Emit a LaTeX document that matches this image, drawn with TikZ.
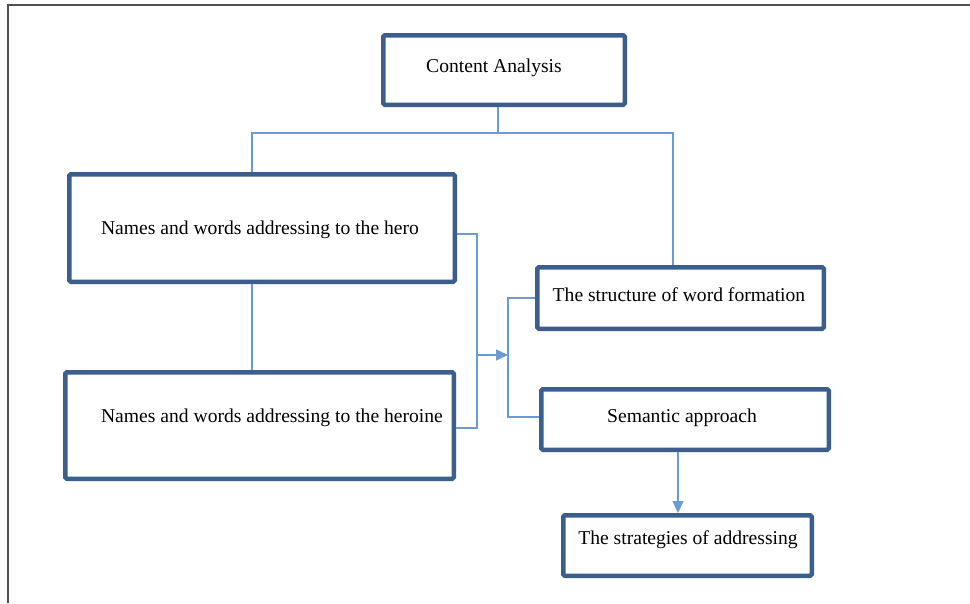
\documentclass[tikz,border=0pt]{standalone}
\usepackage{fontspec}
\setmainfont{Liberation Serif}
\usetikzlibrary{arrows.meta}
\definecolor{boxc}{RGB}{59,94,140}
\definecolor{linec}{RGB}{106,155,210}
\definecolor{framec}{RGB}{80,80,80}
\begin{document}
\begin{tikzpicture}[x=1pt,y=-1pt,
  box/.style={draw=boxc,line width=4.5pt,rounded corners=1.5pt,fill=white,inner sep=0pt},
  conn/.style={draw=linec,line width=1.4pt},
  arr/.style={conn,-{Triangle[length=12pt,width=11pt]}},
  txt/.style={font=\fontsize{19.6}{22}\selectfont,inner sep=0pt,anchor=center}]
\useasboundingbox (0,0) rectangle (970,603);
\draw[framec,line width=2pt] (8,603) -- (8,5) -- (970,5);
% boxes
\node[box,minimum width=241.5pt,minimum height=69.5pt] (ca) at (504,70) {};
\node[box,minimum width=385.5pt,minimum height=107.5pt] (hero) at (262,228) {};
\node[box,minimum width=388.5pt,minimum height=106.5pt] (heroine) at (259.5,425.5) {};
\node[box,minimum width=286.5pt,minimum height=61.5pt] (struct) at (680.5,298) {};
\node[box,minimum width=287.5pt,minimum height=60.5pt] (sem) at (685,419.5) {};
\node[box,minimum width=248.5pt,minimum height=60.5pt] (strat) at (687.5,545.5) {};
% texts
\node[txt] (tca) at (494,68) {Content Analysis};
\node[txt] (thero) at (260,230) {Names and words addressing to the hero};
\node[txt] (theroine) at (272,418) {Names and words addressing to the heroine};
\node[txt] (tstruct) at (679,295) {The structure of word formation};
\node[txt] (tsem) at (682,418) {Semantic approach};
\node[txt] (tstrat) at (688,540) {The strategies of addressing};
% connectors
\draw[conn] ([xshift=-6pt]ca.south) -- ++(0,26) coordinate (j);
\draw[conn] ([xshift=-10pt]hero.north) |- (j) -| ([xshift=-7.5pt]struct.north);
\draw[conn] ([xshift=-10pt]hero.south) -- ([xshift=-10pt]hero.south |- heroine.north);
\draw[conn] ([yshift=-6pt]hero.east) -- ++(20,0) coordinate (b1) |- ([yshift=-2.5pt]heroine.east);
\coordinate (m1) at (476,355);
\coordinate (m2) at (508,355);
\draw[arr] (m1) -- (m2);
\draw[conn] (struct.west) -| (m2) |- ([yshift=2.5pt]sem.west);
\draw[arr] ([xshift=-7pt]sem.south) -- ([xshift=-7pt]sem.south |- strat.north);
\end{tikzpicture}
\end{document}
